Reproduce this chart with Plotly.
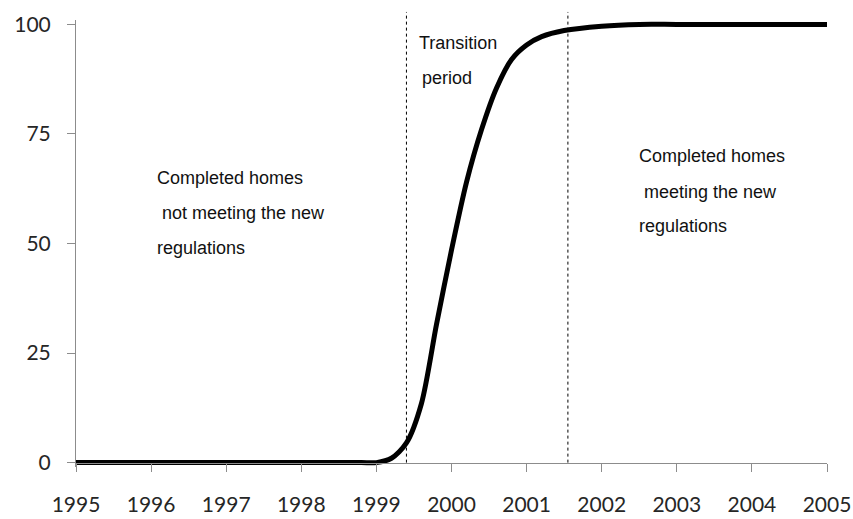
import plotly.graph_objects as go

# share of completed homes meeting the new regulations (%)
years = [1995, 1996, 1997, 1998, 1998.8, 1999.0, 1999.2, 1999.4, 1999.6, 1999.8,
         2000.0, 2000.2, 2000.4, 2000.6, 2000.8, 2001.0, 2001.2, 2001.5, 2002.0,
         2002.5, 2003, 2004, 2005]
share = [0, 0, 0, 0, 0, 0, 1.0, 4.5, 13.5, 31.5,
         48.5, 64, 76, 85.5, 92, 95.3, 97.2, 98.6, 99.6,
         100, 100, 100, 100]

x_ticks = list(range(1995, 2006))
y_ticks = [0, 25, 50, 75, 100]

# boundaries of the transition period
period_bounds = [1999.4, 2001.55]

# text blocks: (x, y, text) per line
labels = [
    (1996.05, 65.0, "Completed homes"),
    (1996.12, 57.0, "not meeting the new"),
    (1996.05, 49.0, "regulations"),
    (1999.537, 95.8, "Transition"),
    (1999.586, 87.8, "period"),
    (2002.47, 70.0, "Completed homes"),
    (2002.54, 61.8, "meeting the new"),
    (2002.47, 54.0, "regulations"),
]

TICK_FONT = dict(family="Lato, Open Sans, sans-serif", size=21, color="#262626")
TEXT_FONT = dict(family="Liberation Sans, Arial, sans-serif", size=18, color="#111111")

fig = go.Figure()
fig.add_trace(go.Scatter(
    x=years, y=share, mode="lines",
    line=dict(color="black", width=5, shape="spline", smoothing=0.8),
    hoverinfo="skip",
))

for xb in period_bounds:
    fig.add_shape(type="line", xref="x", yref="paper",
                  x0=xb, x1=xb, y0=0.0098, y1=1.018,
                  line=dict(color="black", width=1, dash="dot"))

for x, y, t in labels:
    fig.add_annotation(x=x, y=y, text=t, showarrow=False,
                       xanchor="left", yanchor="middle", font=TEXT_FONT)

fig.update_layout(
    width=853, height=519,
    margin=dict(l=76, r=26, t=20, b=52),
    plot_bgcolor="white", paper_bgcolor="white",
    showlegend=False,
    xaxis=dict(
        range=[1995, 2005], tickvals=x_ticks, ticktext=[str(v) for v in x_ticks],
        showgrid=False, zeroline=False, showline=True, linecolor="#8c8c8c",
        ticks="outside", ticklen=8, tickcolor="#8c8c8c", automargin=False,
        anchor="free", position=0.0098, tickfont=TICK_FONT, ticklabelstandoff=15,
    ),
    yaxis=dict(
        range=[-1, 101], tickvals=y_ticks,
        showgrid=False, zeroline=False, showline=True, linecolor="#8c8c8c",
        ticks="outside", ticklen=8, tickcolor="#8c8c8c", automargin=False,
        tickfont=TICK_FONT, ticklabelstandoff=12,
    ),
)

# drop the default page margin so the figure fills the window exactly
fig.write_html("out.html", config={"displayModeBar": False},
               post_script="document.body.style.margin='0';")
